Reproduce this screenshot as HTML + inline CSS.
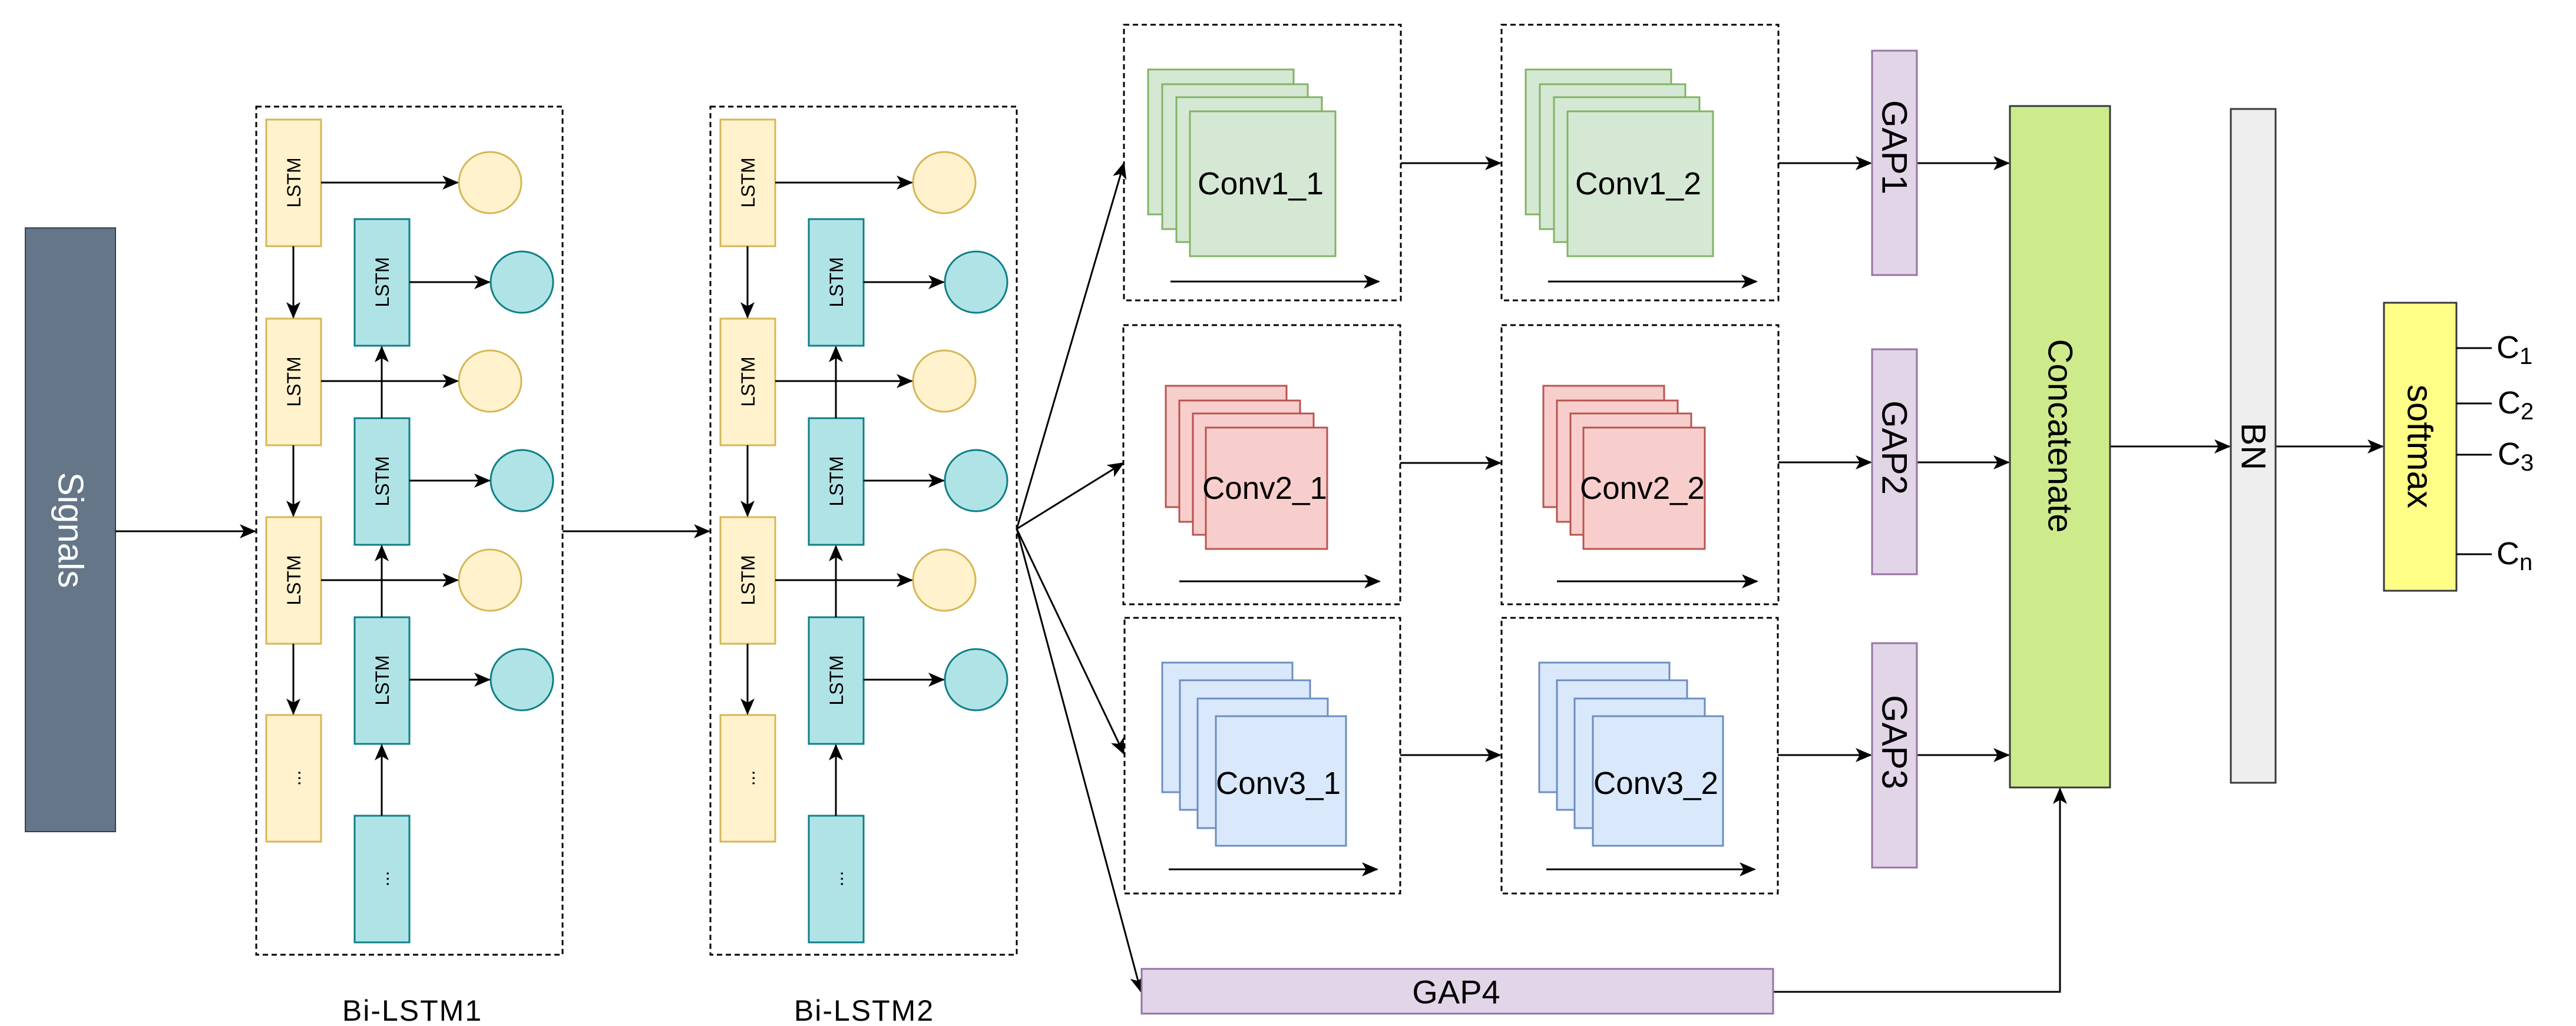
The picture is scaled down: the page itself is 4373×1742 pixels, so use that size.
<!DOCTYPE html>
<html><head><meta charset="utf-8"><style>
html,body{margin:0;padding:0;background:#fff;}
svg{display:block;}
text{font-family:"Liberation Sans",Arial,sans-serif;}
</style></head><body>
<svg width="4373" height="1742" viewBox="0 0 4373 1742" xmlns="http://www.w3.org/2000/svg">
<defs>
<marker id="a" markerWidth="14" markerHeight="14" refX="13" refY="7" orient="auto" markerUnits="userSpaceOnUse" viewBox="0 0 14 14">
<path d="M0,0 L14,7 L0,14 L4,7 Z" fill="#000"/>
</marker>
<marker id="b" markerWidth="28" markerHeight="24" refX="26" refY="12" orient="auto" markerUnits="userSpaceOnUse" viewBox="0 0 28 24">
<path d="M0,0 L28,12 L0,24 L7,12 Z" fill="#000"/>
</marker>
<g id="lstmcol">
  <rect x="0" y="0" width="520" height="1440" fill="none" stroke="#000" stroke-width="3" stroke-dasharray="9,6"/>
  <!-- yellow LSTMs -->
  <g fill="#fff2cc" stroke="#d6b656" stroke-width="3">
    <rect x="17" y="22" width="93" height="215"/>
    <rect x="17" y="360" width="93" height="215"/>
    <rect x="17" y="697" width="93" height="215"/>
    <rect x="17" y="1033" width="93" height="215"/>
  </g>
  <g fill="#b0e3e6" stroke="#0e8088" stroke-width="3">
    <rect x="167" y="191" width="93" height="215"/>
    <rect x="167" y="529" width="93" height="215"/>
    <rect x="167" y="867" width="93" height="215"/>
    <rect x="167" y="1204" width="93" height="215"/>
  </g>
  <g font-size="32" text-anchor="middle" fill="#000">
    <text transform="translate(75,129) rotate(-90)">LSTM</text>
    <text transform="translate(75,467) rotate(-90)">LSTM</text>
    <text transform="translate(75,804) rotate(-90)">LSTM</text>
    <text transform="translate(75,1140) rotate(-90)">...</text>
    <text transform="translate(225,298) rotate(-90)">LSTM</text>
    <text transform="translate(225,636) rotate(-90)">LSTM</text>
    <text transform="translate(225,974) rotate(-90)">LSTM</text>
    <text transform="translate(225,1311) rotate(-90)">...</text>
  </g>
  <g fill="#fff2cc" stroke="#d6b656" stroke-width="3">
    <ellipse cx="397" cy="129" rx="53" ry="52"/>
    <ellipse cx="397" cy="466" rx="53" ry="52"/>
    <ellipse cx="397" cy="804" rx="53" ry="52"/>
  </g>
  <g fill="#b0e3e6" stroke="#0e8088" stroke-width="3">
    <ellipse cx="451" cy="298" rx="53" ry="52"/>
    <ellipse cx="451" cy="635" rx="53" ry="52"/>
    <ellipse cx="451" cy="973" rx="53" ry="52"/>
  </g>
  <g stroke="#000" stroke-width="3" fill="none" marker-end="url(#b)">
    <line x1="110" y1="129" x2="342" y2="129"/>
    <line x1="110" y1="466" x2="342" y2="466"/>
    <line x1="110" y1="804" x2="342" y2="804"/>
    <line x1="260" y1="298" x2="396" y2="298"/>
    <line x1="260" y1="635" x2="396" y2="635"/>
    <line x1="260" y1="973" x2="396" y2="973"/>
    <line x1="63" y1="237" x2="63" y2="358"/>
    <line x1="63" y1="575" x2="63" y2="695"/>
    <line x1="63" y1="912" x2="63" y2="1031"/>
    <line x1="213" y1="1204" x2="213" y2="1084"/>
    <line x1="213" y1="867" x2="213" y2="746"/>
    <line x1="213" y1="529" x2="213" y2="408"/>
  </g>
</g>
</defs>

<!-- Signals -->
<rect x="43" y="387" width="153" height="1025" fill="#647687" stroke="#314354" stroke-width="2"/>
<text transform="translate(120,900) rotate(90)" font-size="60" fill="#fff" text-anchor="middle" dominant-baseline="central">Signals</text>
<line x1="196" y1="902" x2="433" y2="902" stroke="#000" stroke-width="3" marker-end="url(#b)"/>

<use href="#lstmcol" x="435" y="181"/>
<use href="#lstmcol" x="1206" y="181"/>
<line x1="955" y1="902" x2="1204" y2="902" stroke="#000" stroke-width="3" marker-end="url(#b)"/>

<text x="700" y="1733" font-size="50" text-anchor="middle" letter-spacing="2">Bi-LSTM1</text>
<text x="1467" y="1733" font-size="50" text-anchor="middle" letter-spacing="2">Bi-LSTM2</text>

<!-- fan out -->
<g stroke="#000" stroke-width="3" fill="none" marker-end="url(#b)">
  <line x1="1726" y1="898" x2="1908" y2="277"/>
  <line x1="1726" y1="898" x2="1907" y2="786"/>
  <line x1="1726" y1="898" x2="1908" y2="1280"/>
  <line x1="1726" y1="898" x2="1937" y2="1684"/>
</g>

<!-- conv boxes -->
<g fill="none" stroke="#000" stroke-width="3" stroke-dasharray="9,6">
  <rect x="1908" y="42" width="470" height="468"/>
  <rect x="2549" y="42" width="470" height="468"/>
  <rect x="1907" y="552" width="470" height="474"/>
  <rect x="2549" y="552" width="470" height="474"/>
  <rect x="1909" y="1049" width="468" height="468"/>
  <rect x="2549" y="1049" width="469" height="468"/>
</g>

<!-- conv1 stacks -->
<g fill="#d5e8d4" stroke="#82b366" stroke-width="3">
  <rect x="1949" y="118" width="247" height="246"/>
  <rect x="1973" y="143" width="247" height="246"/>
  <rect x="1997" y="165" width="247" height="246"/>
  <rect x="2020" y="189" width="247" height="246"/>
  <rect x="2590" y="118" width="247" height="246"/>
  <rect x="2614" y="143" width="247" height="246"/>
  <rect x="2638" y="165" width="247" height="246"/>
  <rect x="2661" y="189" width="247" height="246"/>
</g>
<g fill="#f8cecc" stroke="#b85450" stroke-width="3">
  <rect x="1979" y="655" width="205" height="206"/>
  <rect x="2002" y="680" width="205" height="206"/>
  <rect x="2025" y="702" width="205" height="206"/>
  <rect x="2047" y="726" width="206" height="206"/>
  <rect x="2620" y="655" width="205" height="206"/>
  <rect x="2643" y="680" width="205" height="206"/>
  <rect x="2666" y="702" width="205" height="206"/>
  <rect x="2688" y="726" width="206" height="206"/>
</g>
<g fill="#dae8fc" stroke="#6c8ebf" stroke-width="3">
  <rect x="1973" y="1125" width="221" height="220"/>
  <rect x="2003" y="1155" width="221" height="220"/>
  <rect x="2033" y="1186" width="221" height="220"/>
  <rect x="2064" y="1216" width="221" height="220"/>
  <rect x="2613" y="1125" width="221" height="220"/>
  <rect x="2643" y="1155" width="221" height="220"/>
  <rect x="2673" y="1186" width="221" height="220"/>
  <rect x="2704" y="1216" width="221" height="220"/>
</g>
<g font-size="54" text-anchor="middle" dominant-baseline="central" fill="#000">
  <text x="2140" y="312" textLength="214" lengthAdjust="spacingAndGlyphs">Conv1_1</text>
  <text x="2781" y="312" textLength="214" lengthAdjust="spacingAndGlyphs">Conv1_2</text>
  <text x="2147" y="829" textLength="212" lengthAdjust="spacingAndGlyphs">Conv2_1</text>
  <text x="2788" y="829" textLength="212" lengthAdjust="spacingAndGlyphs">Conv2_2</text>
  <text x="2170" y="1330" textLength="212" lengthAdjust="spacingAndGlyphs">Conv3_1</text>
  <text x="2811" y="1330" textLength="212" lengthAdjust="spacingAndGlyphs">Conv3_2</text>
</g>

<g stroke="#000" stroke-width="3" fill="none" marker-end="url(#b)">
  <line x1="1987" y1="478" x2="2341" y2="478"/>
  <line x1="2628" y1="478" x2="2982" y2="478"/>
  <line x1="2002" y1="987" x2="2342" y2="987"/>
  <line x1="2643" y1="987" x2="2983" y2="987"/>
  <line x1="1984" y1="1476" x2="2338" y2="1476"/>
  <line x1="2625" y1="1476" x2="2979" y2="1476"/>
  <line x1="2378" y1="277" x2="2547" y2="277"/>
  <line x1="2377" y1="786" x2="2547" y2="786"/>
  <line x1="2377" y1="1282" x2="2547" y2="1282"/>
  <line x1="3019" y1="277" x2="3176" y2="277"/>
  <line x1="3019" y1="785" x2="3176" y2="785"/>
  <line x1="3018" y1="1282" x2="3176" y2="1282"/>
  <line x1="3254" y1="277" x2="3410" y2="277"/>
  <line x1="3254" y1="785" x2="3410" y2="785"/>
  <line x1="3254" y1="1282" x2="3410" y2="1282"/>
  <polyline points="3010,1684 3497,1684 3497,1339"/>
  <line x1="3582" y1="758" x2="3785" y2="758"/>
  <line x1="3863" y1="758" x2="4045" y2="758"/>
</g>

<!-- GAPs -->
<g fill="#e1d5e7" stroke="#9673a6" stroke-width="3">
  <rect x="3178" y="86" width="76" height="381"/>
  <rect x="3178" y="593" width="76" height="382"/>
  <rect x="3178" y="1092" width="76" height="381"/>
  <rect x="1938" y="1645" width="1072" height="76"/>
</g>
<g font-size="60" text-anchor="middle" dominant-baseline="central" fill="#000">
  <text transform="translate(3216,250) rotate(90)">GAP1</text>
  <text transform="translate(3216,760) rotate(90)">GAP2</text>
  <text transform="translate(3216,1260) rotate(90)">GAP3</text>
  <text x="2472" y="1684" font-size="56">GAP4</text>
</g>

<rect x="3412" y="180" width="170" height="1157" fill="#cdeb8b" stroke="#36393d" stroke-width="3"/>
<text transform="translate(3497,740) rotate(90)" font-size="58" text-anchor="middle" dominant-baseline="central">Concatenate</text>
<rect x="3787" y="185" width="76" height="1144" fill="#eeeeee" stroke="#36393d" stroke-width="3"/>
<text transform="translate(3825,758) rotate(90)" font-size="58" text-anchor="middle" dominant-baseline="central">BN</text>
<rect x="4047" y="514" width="123" height="489" fill="#ffff88" stroke="#36393d" stroke-width="3"/>
<text transform="translate(4108,758) rotate(90)" font-size="60" text-anchor="middle" dominant-baseline="central">softmax</text>

<g stroke="#000" stroke-width="3">
  <line x1="4170" y1="591" x2="4230" y2="591"/>
  <line x1="4170" y1="685" x2="4230" y2="685"/>
  <line x1="4170" y1="772" x2="4230" y2="772"/>
  <line x1="4170" y1="941" x2="4230" y2="941"/>
</g>
<g font-size="54" fill="#000">
  <text x="4238" y="608">C<tspan font-size="40" dy="10">1</tspan></text>
  <text x="4240" y="702">C<tspan font-size="40" dy="10">2</tspan></text>
  <text x="4240" y="789">C<tspan font-size="40" dy="10">3</tspan></text>
  <text x="4238" y="958">C<tspan font-size="40" dy="10">n</tspan></text>
</g>
</svg>
</body></html>
